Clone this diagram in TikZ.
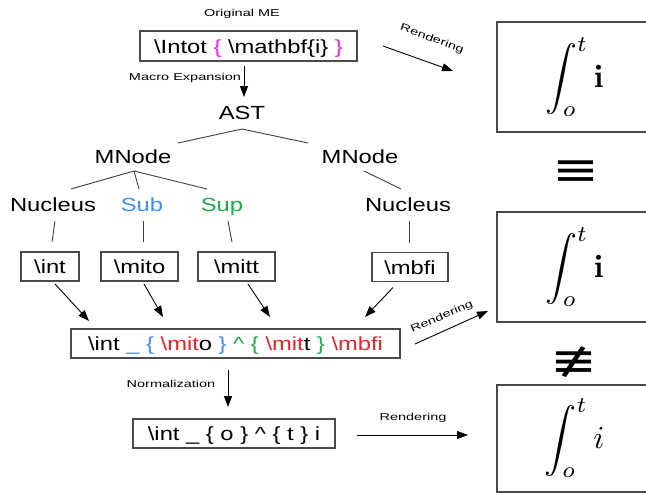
\documentclass[tikz,border=0pt]{standalone}
\usepackage{amsmath}
\usepackage{graphicx}
\usepackage[no-math]{fontspec}
\setmainfont{Liberation Sans}[FakeStretch=1.25]
\newfontfamily\labelfont{Liberation Sans}[FakeStretch=1.45]
\newfontfamily\relfont{DejaVu Sans}[FakeStretch=1.22]
\usetikzlibrary{arrows.meta,calc}
\definecolor{subblue}{HTML}{3D8EF5}
\definecolor{supgreen}{HTML}{1DAA48}
\definecolor{macrored}{HTML}{E3262B}
\definecolor{bracemag}{HTML}{F21DF2}
\definecolor{framegray}{HTML}{4A4A4A}
\begin{document}
\begin{tikzpicture}[x=1pt,y=-1pt,
  every node/.style={inner sep=0pt, outer sep=0pt},
  treelabel/.style={font=\fontsize{19}{22}\selectfont, text height=14pt, text depth=0pt},
  codebox/.style={draw=framegray, line width=1.1pt, font=\fontsize{19}{22}\selectfont,
    text height=14pt, text depth=0pt, minimum height=29pt},
  renderbox/.style={draw=framegray, line width=1.1pt, minimum width=155pt},
  steplabel/.style={font=\labelfont\fontsize{10}{12}\selectfont},
  relsymbol/.style={font=\relfont\fontsize{46}{50}\selectfont, text height=30pt, text depth=0pt},
  branch/.style={draw=black!75, line width=0.9pt},
  flow/.style={draw=black, line width=0.9pt, -{Triangle[length=11pt,width=8pt]}},
]
\useasboundingbox (0,0) rectangle (646,493);

% source expression
\node[steplabel] (origlbl) at (242,14) {Original ME};
\node[codebox, minimum width=217pt, minimum height=30pt] (me) at (248.5,46)
  {\textbackslash Intot {\color{bracemag}\{} \textbackslash mathbf\{i\} {\color{bracemag}\}}};

% parse tree
\node[treelabel] (ast)  at (242,112) {AST};
\node[treelabel] (mnl)  at (133,156) {MNode};
\node[treelabel] (mnr)  at (360,156) {MNode};
\node[treelabel] (nucl) at (53,204)  {Nucleus};
\node[treelabel, text=subblue]  (sub) at (142,204) {Sub};
\node[treelabel, text=supgreen] (sup) at (222,204) {Sup};
\node[treelabel] (nucr) at (408,204) {Nucleus};

% leaf macros
\node[codebox, minimum width=58pt] (bint)  at (50,266.5)  {\textbackslash int};
\node[codebox, minimum width=77pt] (bmito) at (139.5,266.5) {\textbackslash mito};
\node[codebox, minimum width=77pt] (bmitt) at (236.5,266.5) {\textbackslash mitt};
\node[codebox, minimum width=76pt] (bmbfi) at (410,267) {\textbackslash mbfi};

% expanded and normalized expressions
\node[codebox, minimum width=329pt] (big) at (235.5,343.5)
  {\textbackslash int {\color{subblue}\_ \{} {\color{macrored}\textbackslash mit}o {\color{subblue}\}}
   {\color{supgreen}\textasciicircum{} \{} {\color{macrored}\textbackslash mit}t {\color{supgreen}\}}
   {\color{macrored}\textbackslash mbfi}};
\node[codebox, minimum width=202pt] (nbox) at (234,433.5)
  {\textbackslash int \_ \{ o \} \textasciicircum{} \{ t \} i};

% rendered results
\node[renderbox, minimum height=110pt] (r1) at (574.5,77)
  {\scalebox{3.2}{$\displaystyle\int_o^t\mathbf{i}$}};
\node[renderbox, minimum height=110pt] (r2) at (574.5,267)
  {\scalebox{3.2}{$\displaystyle\int_o^t\mathbf{i}$}};
\node[renderbox, minimum height=107pt] (r3) at (574.5,438.5)
  {\scalebox{3.2}{$\displaystyle\int_o^t i$}};
\node[relsymbol] (equiv) at (576,170) {≡};
\node[relsymbol] (nequiv) at (574,361) {≢};

% macro expansion
\draw[flow] ($(me.south)+(-4.5,5)$) -- ($(ast.north)+(2,-8)$);
\node[steplabel] (macrolbl) at (185,78) {Macro Expansion};

% tree branches
\draw[branch] ($(ast)+(0,17)$) -- ($(mnl)+(45,-13)$);
\draw[branch] ($(ast)+(0,17)$) -- ($(mnr)+(-52,-13)$);
\draw[branch] ($(mnl)+(1,15)$) -- ($(nucl)+(18,-15)$);
\draw[branch] ($(mnl)+(1,15)$) -- ($(sub)+(-3,-15)$);
\draw[branch] ($(mnl)+(1,15)$) -- ($(sup)+(-15,-15)$);
\draw[branch] ($(mnr)+(4,15)$) -- ($(nucr)+(-7,-15)$);
\draw[branch] ($(nucl)+(2,17)$) -- ($(bint.north)+(2,-10)$);
\draw[branch] ($(sub)+(1,17)$) -- ($(bmito.north)+(3.5,-10)$);
\draw[branch] ($(sup)+(6,17)$) -- ($(bmitt.north)+(-4.5,-10)$);
\draw[branch] ($(nucr)+(1,17)$) -- ($(bmbfi.north)+(-1,-10)$);

% leaves merge into the expanded expression
\draw[flow] ($(bint.south)+(5,3)$) -- ($(big.north)+(-146.5,-8)$);
\draw[flow] ($(bmito.south)+(4.5,3)$) -- ($(big.north)+(-72.5,-12)$);
\draw[flow] ($(bmitt.south)+(11.5,3)$) -- ($(big.north)+(34.5,-12)$);
\draw[flow] ($(bmbfi.south)+(-17,6)$) -- ($(big.north)+(129.5,-12)$);

% rendering and normalization steps
\draw[flow] ($(me.east)+(26,0)$) -- ($(r1.west)+(-44,-6)$);
\node[steplabel, rotate=-20] (rend1) at (432,39) {Rendering};
\draw[flow] ($(big.east)+(15,0.5)$) -- ($(r2.west)+(-9,44)$);
\node[steplabel, rotate=24] (rend2) at (442,317) {Rendering};
\draw[flow] ($(big.south)+(-7.5,12)$) -- ($(nbox.north)+(-6,-12)$);
\node[steplabel] (normlbl) at (171,384) {Normalization};
\draw[flow] ($(nbox.east)+(22,1.5)$) -- ($(r3.west)+(-29,-3.5)$);
\node[steplabel] (rend3) at (413,418) {Rendering};
\end{tikzpicture}
\end{document}
